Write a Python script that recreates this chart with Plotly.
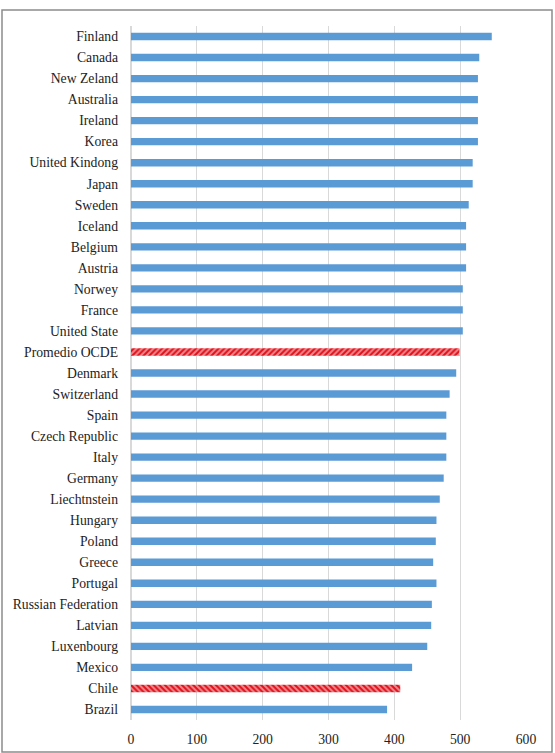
import plotly.graph_objects as go

countries = ["Finland", "Canada", "New Zeland", "Australia", "Ireland", "Korea",
             "United Kindong", "Japan", "Sweden", "Iceland", "Belgium", "Austria",
             "Norwey", "France", "United State", "Promedio OCDE", "Denmark",
             "Switzerland", "Spain", "Czech Republic", "Italy", "Germany",
             "Liechtnstein", "Hungary", "Poland", "Greece", "Portugal",
             "Russian Federation", "Latvian", "Luxenbourg", "Mexico", "Chile", "Brazil"]
scores = [548, 529, 527, 527, 527, 527, 519, 519, 513, 509, 509, 509,
          504, 504, 504, 499, 494, 484, 479, 479, 479, 475, 469, 464,
          463, 459, 464, 457, 456, 450, 427, 409, 389]
x_ticks = [0, 100, 200, 300, 400, 500, 600]

highlight = {"Promedio OCDE": "/", "Chile": "\\"}
colors = ["#E0101A" if c in highlight else "#5B9BD5" for c in countries]
shapes = [highlight.get(c, "") for c in countries]

fig = go.Figure(go.Bar(
    x=scores, y=countries, orientation="h",
    marker=dict(color=colors, line=dict(width=0),
                pattern=dict(shape=shapes, fgcolor="#1a0000", size=4, solidity=0.5,
                             fillmode="overlay")),
))

serif = "'Times New Roman', 'Liberation Serif', 'DejaVu Serif', serif"
fig.update_layout(
    width=555, height=753,
    margin=dict(l=131, r=29, t=26, b=33),
    paper_bgcolor="white", plot_bgcolor="white",
    bargap=0.65, showlegend=False,
    font=dict(family=serif, size=13.7, color="#222"),
    xaxis=dict(range=[0, 600], tickvals=x_ticks, showgrid=True, gridcolor="#D9D9D9",
               gridwidth=1, zeroline=True, zerolinecolor="#D9D9D9", showline=False,
               ticks="", ticklabelstandoff=9, fixedrange=True, automargin=False,
               tickfont=dict(family=serif, size=13.7)),
    yaxis=dict(categoryorder="array", categoryarray=countries[::-1], showgrid=False,
               showline=False, ticks="", ticklabelstandoff=12, fixedrange=True,
               automargin=False, tickfont=dict(family=serif, size=13.7)),
    shapes=[dict(type="rect", xref="paper", yref="paper",
                 x0=(2 - 131) / 395, x1=(552 - 131) / 395,
                 y0=(720 - 752) / 694, y1=(720 - 10) / 694,
                 line=dict(color="#8c8c8c", width=1.5), fillcolor="rgba(0,0,0,0)")],
)

fig.write_html("out.html")
